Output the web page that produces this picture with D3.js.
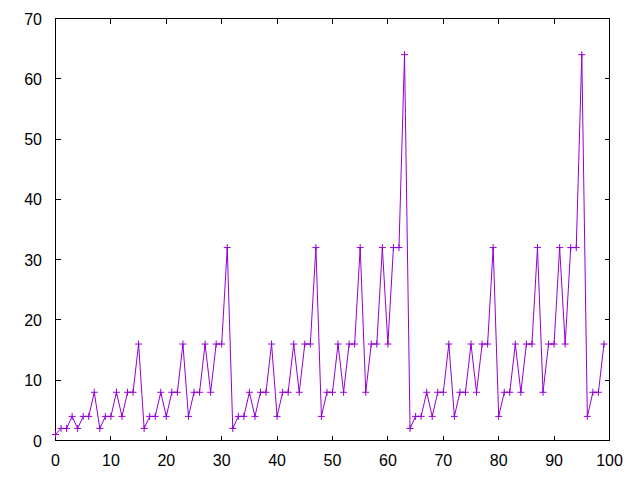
<!DOCTYPE html>
<html><head><meta charset="utf-8">
<script src="https://cdn.jsdelivr.net/npm/d3@7"></script>
<style>body{margin:0;background:#fff}svg{display:block}</style>
</head><body>
<script>
const xValues = d3.range(0, 100);
const yValues = [
  1,2,2,4,2,4,4,8,2,4,4,8,4,8,8,16,
  2,4,4,8,4,8,8,16,4,8,8,16,8,16,16,32,
  2,4,4,8,4,8,8,16,4,8,8,16,8,16,16,32,
  4,8,8,16,8,16,16,32,8,16,16,32,16,32,32,64,
  2,4,4,8,4,8,8,16,4,8,8,16,8,16,16,32,
  4,8,8,16,8,16,16,32,8,16,16,32,16,32,32,64,
  4,8,8,16
];
const xTicks = [0,10,20,30,40,50,60,70,80,90,100];
const yTicks = [0,10,20,30,40,50,60,70];

const W = 640, H = 480;
const m = {left: 55.5, right: 609.5, top: 18.5, bottom: 440.5};
const svg = d3.select("body").append("svg").attr("width", W).attr("height", H);
const x = d3.scaleLinear().domain([0,100]).range([m.left, m.right]);
const y = d3.scaleLinear().domain([0,70]).range([m.bottom, m.top]);
const font = "'Liberation Sans', Arial, sans-serif";
const tl = 5;

const g = svg.append("g").attr("shape-rendering","crispEdges");
xTicks.forEach(t => {
  g.append("line").attr("x1",x(t)).attr("x2",x(t)).attr("y1",m.bottom).attr("y2",m.bottom-tl).attr("stroke","#000");
  g.append("line").attr("x1",x(t)).attr("x2",x(t)).attr("y1",m.top).attr("y2",m.top+tl).attr("stroke","#000");
});
yTicks.forEach(t => {
  g.append("line").attr("x1",m.left).attr("x2",m.left+tl).attr("y1",y(t)).attr("y2",y(t)).attr("stroke","#000");
  g.append("line").attr("x1",m.right).attr("x2",m.right-tl).attr("y1",y(t)).attr("y2",y(t)).attr("stroke","#000");
});
g.append("rect").attr("x",m.left).attr("y",m.top).attr("width",m.right-m.left).attr("height",m.bottom-m.top)
  .attr("fill","none").attr("stroke","#000");

svg.append("g").selectAll("text").data(xTicks).join("text")
  .attr("x", d=>x(d)).attr("y", 466).attr("text-anchor","middle")
  .attr("font-family",font).attr("font-size","16px").text(d=>d);
svg.append("g").selectAll("text").data(yTicks).join("text")
  .attr("x", 42).attr("y", d=>y(d)+6).attr("text-anchor","end")
  .attr("font-family",font).attr("font-size","16px").text(d=>d);

const data = xValues.map((d,i)=>[d,yValues[i]]);
const color = "#9400d3";
svg.append("path").datum(data)
  .attr("d", d3.line().x(d=>x(d[0])).y(d=>y(d[1])))
  .attr("fill","none").attr("stroke",color).attr("stroke-width",1);
const s = 3.5;
svg.append("g").selectAll("path").data(data).join("path")
  .attr("d", d=>`M${x(d[0])-s},${y(d[1])}H${x(d[0])+s}M${x(d[0])},${y(d[1])-s}V${y(d[1])+s}`)
  .attr("stroke",color).attr("stroke-width",1).attr("fill","none");
</script>
</body></html>
